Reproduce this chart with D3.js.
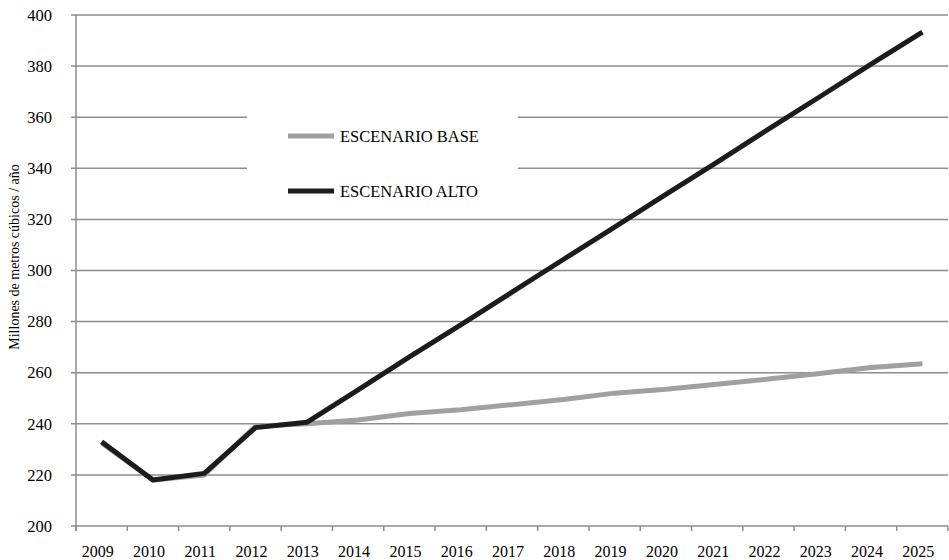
<!DOCTYPE html>
<html>
<head>
<meta charset="utf-8">
<script src="https://cdn.jsdelivr.net/npm/d3@7"></script>
<style>
  body { margin: 0; background: #fff; }
  svg text { font-family: "Palatino Linotype", "Book Antiqua", "Liberation Serif", serif; fill: #000; }
</style>
</head>
<body>
<script>
// data
var years = ["2009", "2010", "2011", "2012", "2013", "2014", "2015", "2016", "2017",
    "2018", "2019", "2020", "2021", "2022", "2023", "2024", "2025"];
var base = [232.5, 218, 220, 239, 240, 241.5, 244, 245.5, 247.5, 249.5, 252, 253.5,
    255.5, 257.5, 259.7, 262, 263.5];
var alto = [233, 218, 220.6, 238.5, 240.6, 253.3, 266.2, 278.7, 291.5, 304.3, 317,
    329.8, 342.4, 355.3, 368, 380.8, 393.3];
var yTicks = [200, 220, 240, 260, 280, 300, 320, 340, 360, 380, 400];
var seriesNames = ["ESCENARIO BASE", "ESCENARIO ALTO"];
var seriesColors = ["#a0a0a0", "#1c1c1e"];

var width = 949;
var height = 560;
var margin = {top: 15, right: 1, bottom: 34, left: 76};

var svg = d3.select("body")
    .append("svg")
    .attr("width", width)
    .attr("height", height);

// scales
var x = d3.scaleBand()
    .domain(years)
    .range([margin.left, width - margin.right])
    .padding(0);

var y = d3.scaleLinear()
    .domain([200, 400])
    .range([height - margin.bottom, margin.top]);

var gridColor = "#8c8c8c";

// horizontal gridlines
svg.append("g")
    .selectAll("line")
    .data(yTicks)
    .enter()
    .append("line")
    .attr("x1", margin.left - 5)
    .attr("x2", width - margin.right)
    .attr("y1", d => y(d))
    .attr("y2", d => y(d))
    .style("stroke", gridColor)
    .style("stroke-width", 1.5);

// y axis line
svg.append("line")
    .attr("x1", margin.left)
    .attr("x2", margin.left)
    .attr("y1", y(400))
    .attr("y2", y(200) + 5)
    .style("stroke", gridColor)
    .style("stroke-width", 1.5);

// y tick labels
svg.append("g")
    .selectAll("text")
    .data(yTicks)
    .enter()
    .append("text")
    .attr("x", margin.left - 24)
    .attr("y", d => y(d))
    .attr("dy", "0.35em")
    .attr("text-anchor", "end")
    .style("font-size", "16.5px")
    .text(d => d);

// x tick marks at band edges
var edges = years.map(d => x(d)).concat([x.range()[1]]);
svg.append("g")
    .selectAll("line")
    .data(edges)
    .enter()
    .append("line")
    .attr("x1", d => d)
    .attr("x2", d => d)
    .attr("y1", y(200))
    .attr("y2", y(200) + 5)
    .style("stroke", gridColor)
    .style("stroke-width", 1.5);

// x labels
svg.append("g")
    .attr("transform", "translate(-4," + (y(200) + 5) + ")")
    .call(d3.axisBottom(x).tickSize(0).tickPadding(15))
    .call(g => g.select(".domain").remove())
    .selectAll("text")
    .style("font-size", "16px")
    .style("font-family", "'Palatino Linotype', 'Book Antiqua', 'Liberation Serif', serif")
    .style("fill", "#000");

// y axis title
svg.append("text")
    .attr("transform", "translate(19,257) rotate(-90)")
    .attr("text-anchor", "middle")
    .style("font-size", "14px")
    .text("Millones de metros cúbicos / año");

// legend box covers gridlines
var legend = svg.append("g");
legend.append("rect")
    .attr("x", 247)
    .attr("y", 98)
    .attr("width", 271)
    .attr("height", 112)
    .style("fill", "#fff");

legend.selectAll("line")
    .data(seriesNames)
    .enter()
    .append("line")
    .attr("x1", 288)
    .attr("x2", 334)
    .attr("y1", (d, i) => 136 + i * 55)
    .attr("y2", (d, i) => 136 + i * 55)
    .style("stroke", (d, i) => seriesColors[i])
    .style("stroke-width", 5);

legend.selectAll("text")
    .data(seriesNames)
    .enter()
    .append("text")
    .attr("x", 340)
    .attr("y", (d, i) => 136 + i * 55)
    .attr("dy", "0.35em")
    .style("font-size", "16.5px")
    .text(d => d);

// lines
var line = d3.line()
    .x((d, i) => x(years[i]) + x.bandwidth() / 2)
    .y(d => y(d));

[base, alto].forEach(function (values, i) {
    svg.append("path")
        .datum(values)
        .attr("d", line)
        .style("fill", "none")
        .style("stroke", seriesColors[i])
        .style("stroke-width", 5)
        .style("stroke-linejoin", "round");
});
</script>
</body>
</html>
